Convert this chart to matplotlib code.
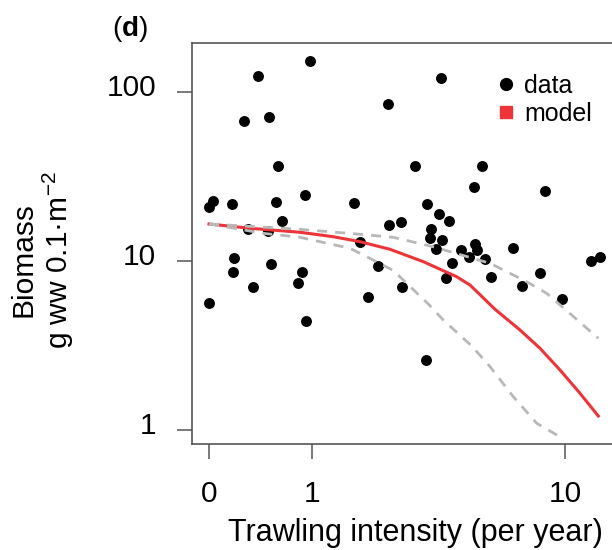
# plot.py

import numpy as np
import matplotlib
matplotlib.use("Agg")
from matplotlib import pyplot as plt
from matplotlib.lines import Line2D
from matplotlib.ticker import NullLocator
from matplotlib.transforms import ScaledTranslation

# data points
intensity = [0.0, 0.025, 0.165, 0.388, 0.266, 0.494, 0.977, 0.588, 0.570, 0.908,
             0.634, 1.653, 2.328, 2.992, 3.336, 2.357, 2.628, 0.303, 0.492, 1.768,
             0.186, 0.175, 0.518, 0.870, 0.824, 0.342, 0.0, 0.921, 1.921, 2.112,
             2.664, 3.312, 4.95, 8.61, 3.71, 4.04, 3.454, 3.424, 3.797, 3.607,
             4.44, 4.98, 5.06, 4.76, 5.42, 6.75, 4.13, 3.92, 5.66, 8.29,
             7.24, 9.78, 12.04, 12.91, 3.775, 5.28]
biomass = [20.96, 22.56, 21.65, 124.3, 67.6, 70.8, 153.2, 36.6, 22.4, 24.6,
           17.2, 22.1, 84.6, 36.6, 21.65, 16.4, 17.0, 15.4, 15.05, 12.95,
           10.4, 8.64, 9.64, 8.64, 7.38, 7.02, 5.64, 4.42, 6.12, 9.30,
           6.99, 2.585, 27.4, 25.95, 18.97, 17.25, 15.4, 13.62, 13.26, 11.82,
           11.62, 12.61, 11.57, 10.52, 10.23, 11.94, 9.77, 7.90, 8.07, 8.53,
           7.11, 5.98, 10.04, 10.56, 121.0, 36.5]

# model fit and its bounds
model_x = [0, 0.318, 0.845, 1.308, 1.762, 2.380, 3.229, 4.294, 4.79, 5.852,
           7.106, 8.275, 9.61, 11.14, 12.73]
model_y = [16.56, 15.62, 14.79, 13.92, 13.01, 11.73, 9.91, 8.07, 7.21, 5.18,
           3.906, 3.044, 2.265, 1.649, 1.21]
upper_x = [0, 0.845, 1.762, 2.456, 3.513, 5.626, 7.48, 8.70, 12.73]
upper_y = [16.56, 15.40, 14.39, 13.81, 12.15, 9.69, 7.54, 6.44, 3.49]
lower_x = [0, 0.441, 0.845, 1.582, 1.890, 2.456, 3.404, 3.838, 4.86, 5.626,
           6.75, 8.07, 9.59]
lower_y = [16.56, 14.58, 13.81, 11.89, 10.60, 8.79, 5.49, 4.475, 3.14, 2.37,
           1.574, 1.096, 0.913]

x_ticks = [0, 1, 10]
y_ticks = [1, 10, 100]

plt.rcParams["font.family"] = ["Liberation Sans", "DejaVu Sans"]
plt.rcParams["mathtext.fontset"] = "custom"
plt.rcParams["mathtext.rm"] = "Liberation Sans"
plt.rcParams["mathtext.bf"] = "Liberation Sans:bold"
plt.rcParams["mathtext.it"] = "Liberation Sans:italic"

W, H = 612, 550
AXC = "#555555"
RED = "#ec3439"
GREY = "#b8b8b8"


def fwd(x):
    return np.log10(np.clip(np.asarray(x, dtype=float) + 1, 1e-9, None))


def inv(t):
    return 10 ** np.asarray(t, dtype=float) - 1


fig = plt.figure(figsize=(W / 100, H / 100), dpi=100)
ax = fig.add_axes([192 / W, (H - 444) / H, (651 - 192) / W, (444 - 43) / H])

ax.set_xscale("function", functions=(fwd, inv))
ax.set_yscale("log")

ax.scatter(intensity, biomass, s=62, color="black", linewidths=0, zorder=2)
ax.plot(model_x, model_y, color=RED, lw=2.2, zorder=3)
ax.plot(upper_x, upper_y, color=GREY, lw=2.0, dashes=(3.6, 2.9), zorder=4)
ax.plot(lower_x, lower_y, color=GREY, lw=2.0, dashes=(3.6, 2.9), zorder=4)

ax.set_xlim(float(inv(-17 / 342.2)), float(inv(442 / 342.2)))
ax.set_ylim(10 ** (-14 / 169), 10 ** (387 / 169))

ax.set_xticks(x_ticks)
ax.set_xticklabels([str(v) for v in x_ticks])
ax.set_yticks(y_ticks)
ax.set_yticklabels([str(v) for v in y_ticks])
ax.xaxis.set_minor_locator(NullLocator())
ax.yaxis.set_minor_locator(NullLocator())
ax.tick_params(length=10.8, width=1.1, color=AXC, labelsize=21.5, pad=15,
               labelcolor="black")

for sp in ax.spines.values():
    sp.set_color(AXC)
    sp.set_linewidth(1.2)

# R puts the y labels a bit above the tick
for lbl in ax.get_yticklabels():
    lbl.set_transform(lbl.get_transform() + ScaledTranslation(0, 0.07, fig.dpi_scale_trans))

handles = [
    Line2D([], [], ls="none", marker="o", ms=8.5, mfc="black", mec="black"),
    Line2D([], [], ls="none", marker="s", ms=8.5, mfc=RED, mec=RED),
]
ax.legend(handles, ["data", "model"], loc="upper left",
          bbox_to_anchor=(493 / W, (H - 74) / H), bbox_transform=fig.transFigure,
          frameon=False, fontsize=18, handlelength=1.0, handletextpad=0.25,
          labelspacing=0.15, borderpad=0, borderaxespad=0)

fig.text(415 / W, (H - 541) / H, "Trawling intensity (per year)",
         ha="center", va="baseline", fontsize=22)
fig.text(23 / W, (H - 260) / H, "Biomass", rotation=90,
         ha="center", va="center", fontsize=21.5)
fig.text(58 / W, (H - 260) / H, "g ww 0.1\u00b7m$^{-2}$", rotation=90,
         ha="center", va="center", fontsize=21.5)
fig.text(130 / W, (H - 29) / H, r"($\mathbf{d}$)",
         ha="center", va="center", fontsize=20)

fig.savefig("out.png", dpi=100)
